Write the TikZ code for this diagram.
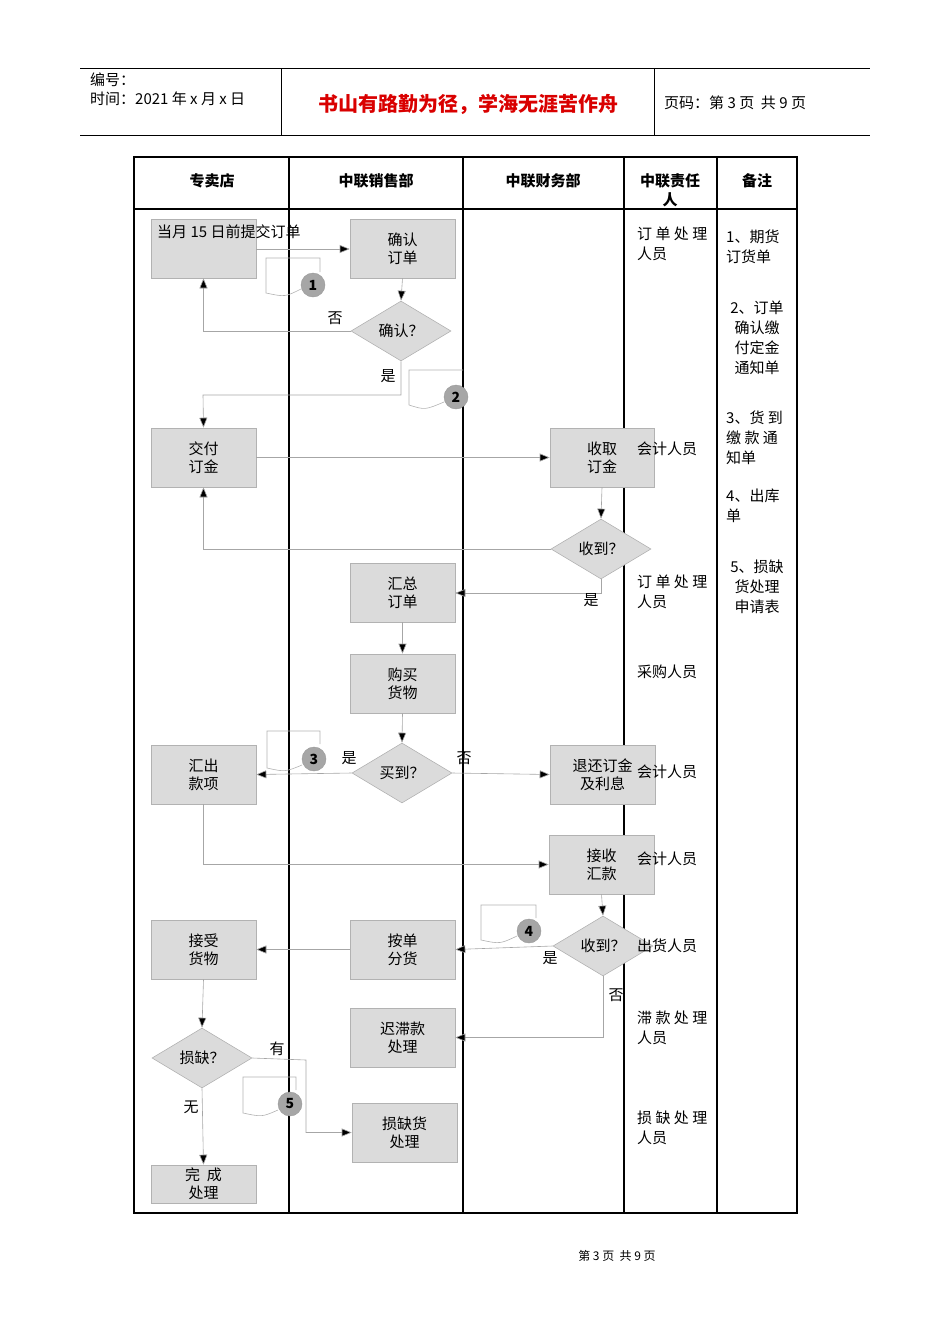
\documentclass[tikz,border=0pt]{standalone}
\usepackage{fontspec}
\setmainfont{Noto Sans CJK SC}
\usetikzlibrary{shapes.geometric,arrows.meta}
\begin{document}
\begin{tikzpicture}[x=1pt,y=-1pt,
  every node/.style={font=\fontsize{15}{18}\selectfont,inner sep=0pt},
  box/.style={draw=black!30,fill=black!14,minimum width=105pt,minimum height=59pt,align=center,line width=0.6pt},
  dia/.style={diamond,draw=black!30,fill=black!14,minimum width=100pt,minimum height=60pt,aspect=1.67,align=center,line width=0.6pt},
  flow/.style={draw=black!35,line width=0.6pt,-{Triangle[length=10pt,width=8pt,fill=black]}},
  lab/.style={font=\fontsize{15}{18}\selectfont},
  grid/.style={line width=1.1pt},
  callout/.style={circle,draw=black!40,fill=black!35,minimum size=24pt,font=\fontsize{14}{14}\selectfont\bfseries},
  curl/.style={draw=black!30,line width=0.6pt},
  note/.style={align=left,anchor=north west,font=\fontsize{15}{20}\selectfont}]
\useasboundingbox (0,0) rectangle (950,1344);
% header
\draw[line width=0.6pt] (80,68) -- (870,68) (80,135) -- (870,135) (281,68) -- (281,135) (654,68) -- (654,135);
\node[anchor=west] (hno) at (90,80) {编号：};
\node[anchor=west] (htime) at (90,99) {时间：2021 年 x 月 x 日};
\node[text=red!85!black,font=\fontsize{20}{24}\selectfont\bfseries] (htitle) at (468,104) {书山有路勤为径，学海无涯苦作舟};
\node[anchor=west] (hpage) at (664,103) {页码：第 3 页\ \ 共 9 页};
% table
\draw[grid] (134,157) rectangle (797,1213);
\draw[grid] (134,209) -- (797,209);
\foreach \x in {289,463,624,717} \draw[grid] (\x,157) -- (\x,1213);
\node[font=\fontsize{15}{18}\selectfont\bfseries] (c1) at (212,181) {专卖店};
\node[font=\fontsize{15}{18}\selectfont\bfseries] (c2) at (376,181) {中联销售部};
\node[font=\fontsize{15}{18}\selectfont\bfseries] (c3) at (543,181) {中联财务部};
\node[font=\fontsize{15}{19}\selectfont\bfseries,align=center] (c4) at (670,190) {中联责任\\人};
\node[font=\fontsize{15}{18}\selectfont\bfseries] (c5) at (757,181) {备注};
% boxes
\node[box] (A) at (203.5,248.5) {};
\node[anchor=north west] (At) at (157,225) {当月 15 日前提交订单};
\node[box] (B) at (402.5,248.5) {确认\\订单};
\node[dia] (D1) at (401,331) {确认？};
\node[box] (C) at (203.5,457.5) {交付\\订金};
\node[box,minimum width=104pt] (E) at (602,457.5) {收取\\订金};
\node[dia] (D2) at (601,549) {收到？};
\node[box] (F) at (402.5,592.5) {汇总\\订单};
\node[box] (G) at (402.5,683.5) {购买\\货物};
\node[dia] (D3) at (402,773) {买到？};
\node[box] (H) at (203.5,774.5) {汇出\\款项};
\node[box] (I) at (602.5,774.5) {退还订金\\及利息};
\node[box] (J) at (601.5,864.5) {接收\\汇款};
\node[dia] (D4) at (603,946) {收到？};
\node[box] (K) at (203.5,949.5) {接受\\货物};
\node[box] (L) at (402.5,949.5) {按单\\分货};
\node[box] (M) at (402.5,1037.5) {迟滞款\\处理};
\node[dia] (D5) at (202,1058) {损缺？};
\node[box] (N) at (404.5,1132.5) {损缺货\\处理};
\node[box,minimum height=38pt] (O) at (203.5,1184) {完\ \ 成\\处理};
% flows
\draw[flow] (256,249) -- (B.west|-0,249);
\draw[flow] (B.south) -- (D1.north);
\draw[flow] (D1.west) -| (A.south);
\draw[flow] (D1.south) |- (203,395) -- (C.north);
\draw[flow] (C.east) -- (E.west);
\draw[flow] (E.south) -- (D2.north);
\draw[flow] (D2.west) -| (C.south);
\draw[flow] (D2.south) |- (F.east|-0,593);
\draw[flow] (F.south) -- (G.north);
\draw[flow] (G.south) -- (D3.north);
\draw[flow] (D3.west) -- (H.east);
\draw[flow] (D3.east) -- (I.west);
\draw[flow] (H.south) |- (J.west);
\draw[flow] (J.south) -- (D4.north);
\draw[flow] (D4.west) -- (L.east);
\draw[flow] (L.west) -- (K.east);
\draw[flow] (D4.south) |- (M.east);
\draw[flow] (K.south) -- (D5.north);
\draw[flow] (D5.east) -- (306,1060) |- (N.west);
\draw[flow] (D5.south) -- (O.north);
\node[lab] (l1) at (335,318) {否};
\node[lab] (l2) at (388,376) {是};
\node[lab] (l3) at (591,600) {是};
\node[lab] (l4) at (349,758) {是};
\node[lab] (l5) at (464,758) {否};
\node[lab] (l6) at (550,958) {是};
\node[lab] (l7) at (616,995) {否};
\node[lab] (l8) at (277,1049) {有};
\node[lab] (l9) at (191,1107) {无};
% callouts
\draw[curl] (320,272) -- (320,258) -- (266,258) -- (266,293) .. controls (285,297) .. (301,289);
\node[callout] (n1) at (313,285) {1};
\draw[curl] (463,370) -- (409,370) -- (409,405) .. controls (425,410) .. (444,402);
\node[callout] (n2) at (456,397) {2};
\draw[curl] (320,744) -- (320,731) -- (267,731) -- (267,768) .. controls (285,772) .. (302,765);
\node[callout] (n3) at (314,759) {3};
\draw[curl] (536,918) -- (536,905) -- (481,905) -- (481,940) .. controls (500,944) .. (517,936);
\node[callout] (n4) at (529,931) {4};
\draw[curl] (296,1090) -- (296,1077) -- (243,1077) -- (243,1113) .. controls (262,1117) .. (278,1110);
\node[callout] (n5) at (290,1104) {5};
% responsible
\node[note] (r1) at (637,227) {订 单 处 理\\人员};
\node[anchor=west] (r2) at (637,449) {会计人员};
\node[note] (r3) at (637,575) {订 单 处 理\\人员};
\node[anchor=west] (r4) at (637,672) {采购人员};
\node[anchor=west] (r5) at (637,772) {会计人员};
\node[anchor=west] (r6) at (637,859) {会计人员};
\node[anchor=west] (r7) at (637,946) {出货人员};
\node[note] (r8) at (637,1011) {滞 款 处 理\\人员};
\node[note] (r9) at (637,1111) {损 缺 处 理\\人员};
% notes
\node[note] (m1) at (726,230) {1、期货\\订货单};
\node[note,align=center,anchor=north] (m2) at (757,301) {2、订单\\确认缴\\付定金\\通知单};
\node[note] (m3) at (726,411) {3、货 到\\缴 款 通\\知单};
\node[note] (m4) at (726,489) {4、出库\\单};
\node[note,align=center,anchor=north] (m5) at (757,560) {5、损缺\\货处理\\申请表};
% footer
\node[font=\fontsize{12}{14}\selectfont] (ft) at (617,1256) {第 3 页\ \ 共 9 页};
\end{tikzpicture}
\end{document}
